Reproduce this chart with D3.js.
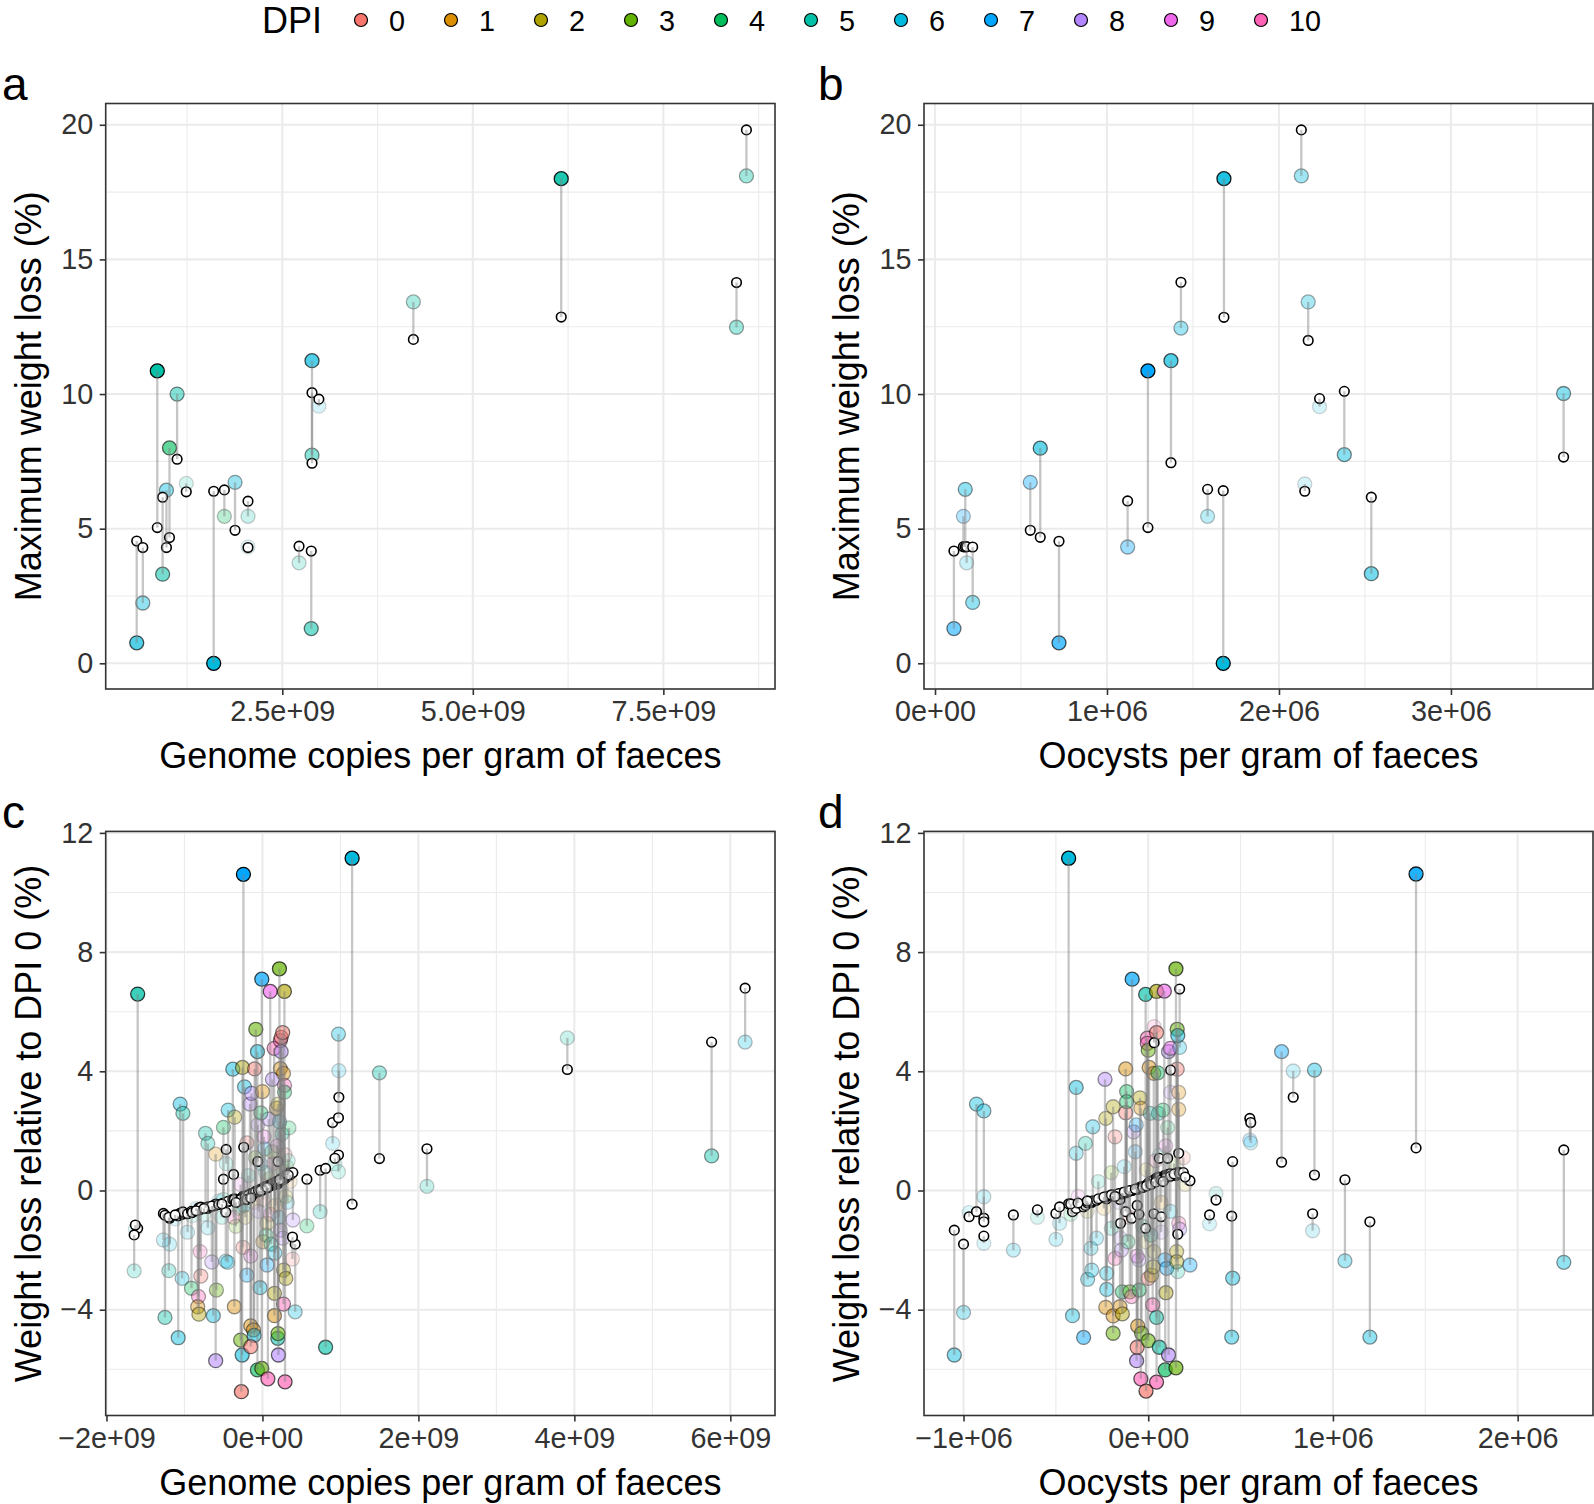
<!DOCTYPE html>
<html><head><meta charset="utf-8">
<script src="https://cdn.jsdelivr.net/npm/d3@7"></script>
<style>body{margin:0;background:#fff;} svg{display:block;}</style>
</head><body>
<svg id="chart" width="1594" height="1504"></svg>
<script>
// ---------- legend ----------
const dpiLevels = [0,1,2,3,4,5,6,7,8,9,10];
const dpiColors = ["#F8766D","#DB8E00","#AEA200","#64B200","#00BD5C","#00C1A7","#00BADE","#00A6FF","#B385FF","#EF67EB","#FF63B6"];

// ---------- panel a: genome copies vs max weight loss ----------
const aGenome = [0.59e9,0.67e9,0.86e9,0.93e9,0.98e9,1.02e9,1.12e9,1.24e9,1.60e9,1.74e9,1.88e9,2.05e9,2.05e9,2.72e9,2.88e9,2.89e9,2.89e9,2.98e9,4.22e9,6.16e9,8.46e9,8.59e9];
const aObs = [0.76,2.24,10.86,3.31,6.43,8.00,10.00,6.68,0.00,5.46,6.72,5.46,4.32,3.73,1.29,11.24,7.73,9.55,13.42,18.00,12.48,18.10];
const aFit = [4.54,4.30,5.04,6.17,4.30,4.67,7.58,6.37,6.39,6.44,4.94,6.02,4.30,4.35,4.17,7.43,10.05,9.81,12.03,12.86,14.14,19.81];
const aDpi = [6,6,5,5,6,4,5,5,6,4,6,5,6,5,5,6,5,6,5,5,5,5];

// ---------- panel b: oocysts vs max weight loss ----------
const bOocysts = [0.110e6,0.165e6,0.176e6,0.184e6,0.219e6,0.554e6,0.612e6,0.721e6,1.120e6,1.238e6,1.372e6,1.430e6,1.585e6,1.676e6,1.680e6,2.130e6,2.150e6,2.170e6,2.236e6,2.380e6,2.537e6,3.655e6];
const bObs = [1.29,5.46,6.46,3.73,2.26,6.72,7.99,0.76,4.32,10.86,11.24,12.45,5.46,0.00,18.00,18.10,6.66,13.42,9.53,7.75,3.33,10.02];
const bFit = [4.17,4.33,4.32,4.33,4.32,4.94,4.68,4.53,6.03,5.04,7.45,14.15,6.46,6.41,12.85,19.81,6.39,11.99,9.83,10.10,6.17,7.66];
const bDpi = [7,7,6,6,6,7,6,7,7,7,6,6,6,6,6,6,6,6,6,6,6,6];

// ---------- panel c: genome copies (relative) vs weight loss relative to DPI 0 ----------
const cGenome = [-1.600e9,-1.645e9,-1.630e9,-1.270e9,-1.190e9,-1.250e9,-1.080e9,-1.200e9,-1.030e9,-1.055e9,
 -1.020e9,-0.960e9,-0.910e9,-0.820e9,-0.830e9,-0.815e9,-0.800e9,-0.790e9,-0.630e9,-0.600e9,
 -0.590e9,-0.700e9,-0.730e9,-0.700e9,-0.600e9,-0.650e9,-0.500e9,-0.470e9,-0.445e9,-0.440e9,
 -0.465e9,-0.380e9,-0.356e9,-0.360e9,-0.370e9,-0.500e9,-0.256e9,-0.244e9,-0.240e9,-0.280e9,
 -0.260e9,-0.270e9,-0.250e9,-0.230e9,-0.200e9,-0.160e9,-0.150e9,-0.115e9,-0.106e9,-0.150e9,
 -0.140e9,-0.100e9,-0.085e9,-0.064e9,-0.064e9,-0.060e9,-0.030e9,-0.008e9,-0.008e9,0.005e9,
 0.000e9,0.020e9,0.040e9,0.060e9,0.070e9,0.080e9,0.100e9,0.103e9,0.120e9,0.128e9,
 0.150e9,0.154e9,0.154e9,0.160e9,0.180e9,0.197e9,0.200e9,0.200e9,0.205e9,0.218e9,
 0.230e9,0.230e9,0.230e9,0.240e9,0.240e9,0.250e9,0.260e9,0.270e9,0.270e9,0.270e9,
 0.282e9,0.283e9,0.283e9,0.290e9,0.300e9,0.310e9,0.320e9,0.340e9,0.355e9,0.390e9,
 0.420e9,0.385e9,0.570e9,0.740e9,0.810e9,0.900e9,0.975e9,0.980e9,0.975e9,0.930e9,
 1.150e9,1.500e9,2.110e9,3.910e9,5.760e9,6.190e9,
 -0.300e9,-0.280e9,-0.220e9,-0.180e9,-0.120e9,-0.090e9,-0.050e9,-0.020e9,0.010e9,0.030e9,
 0.050e9,0.090e9,0.110e9,0.140e9,0.170e9,0.190e9,0.210e9,0.250e9,0.260e9,0.290e9,
 0.300e9,0.330e9,-0.340e9,-0.200e9,-0.150e9,-0.020e9,0.060e9,0.220e9,-1.120e9,-0.900e9,
 -0.850e9,-0.750e9,-0.560e9,-0.520e9];
const cObs = [6.59,-2.70,-1.30,-1.66,-1.80,-4.26,-4.94,-2.69,-2.95,2.90,
 2.59,-1.40,-3.28,-3.56,-3.90,-4.15,-2.05,-2.87,-4.20,-5.71,
 -3.34,-1.25,1.92,1.58,1.22,-2.40,2.12,-2.37,-2.41,2.70,
 0.90,4.07,2.46,-3.90,-0.90,-0.30,4.13,10.61,-0.50,-5.02,
 -5.52,-6.75,-1.91,3.48,-2.84,2.90,-4.54,-4.68,-4.86,-5.24,
 3.26,4.08,5.41,4.66,-6.02,2.20,-3.26,7.09,-5.97,-1.72,
 3.32,1.80,0.60,-1.10,-6.32,2.40,6.68,-0.80,1.30,3.73,
 4.77,-4.20,-3.45,-2.10,2.76,-4.96,-4.80,2.90,-5.52,7.44,
 5.03,4.09,-1.33,4.66,5.14,1.90,5.30,3.93,-3.81,-2.67,
 6.68,3.53,3.30,-6.42,-2.95,0.80,-0.40,2.10,0.30,-0.99,
 -4.07,-2.30,-1.19,-0.71,-5.26,1.58,5.25,4.02,0.63,0.90,
 11.15,3.95,0.14,5.12,1.16,4.98,
 -0.60,0.20,-0.90,0.50,-0.40,1.10,-0.70,0.90,-0.30,1.40,
 -1.50,0.40,-1.80,0.90,-0.50,1.50,-0.90,0.70,-1.60,1.20,
 -0.20,1.00,-1.20,1.60,-2.20,2.60,-2.50,2.30,-0.95,-0.85,
 -0.60,-0.80,-0.35,-0.90];
const cFit = [-1.27,-1.49,-1.16,-0.77,-0.93,-0.83,-0.85,-0.90,-0.80,-0.76,
 -0.72,-0.78,-0.70,-0.62,-0.66,-0.58,-0.64,-0.56,-0.52,-0.50,
 -0.48,-0.60,-0.58,-0.55,-0.46,-0.52,-0.42,-0.73,-0.38,-0.36,
 1.38,-0.30,-0.28,-0.30,0.54,0.38,-0.25,-0.30,1.45,-0.30,
 -0.25,-0.28,-0.20,-0.20,-0.18,-0.15,-0.10,-0.12,-0.08,-0.13,
 -0.10,-0.06,-0.02,-0.04,-0.05,0.97,-0.02,0.02,0.00,0.05,
 0.03,0.10,0.12,0.08,0.10,0.15,0.18,0.16,0.20,0.22,
 0.24,0.20,0.25,0.28,0.30,0.22,0.30,0.97,0.28,0.35,
 0.32,0.34,0.33,0.38,0.40,0.36,0.42,0.44,0.40,0.38,
 0.45,0.46,0.48,0.40,0.45,0.52,0.55,0.58,0.52,0.60,
 -1.80,-1.56,0.38,0.68,0.74,2.28,2.44,3.13,1.19,1.08,
 -0.46,1.07,1.40,4.06,4.98,6.79,
 -0.35,-0.30,-0.22,-0.16,-0.10,-0.05,0.00,0.05,0.08,0.12,
 0.14,0.18,0.20,0.25,0.28,0.30,0.33,0.38,0.40,0.45,
 0.48,0.52,-0.40,-0.30,-0.25,0.00,0.10,0.35,-0.82,-0.74,
 -0.68,-0.60,-0.47,-0.45];
const cDpi = [5,5,6,6,6,5,6,5,6,6,
 5,6,4,10,1,2,10,0,6,8,
 3,6,5,5,1,8,4,6,6,6,
 5,6,2,1,10,5,2,7,6,3,
 6,0,0,6,7,8,1,1,6,0,
 8,0,3,6,4,8,6,7,3,1,
 1,9,5,2,10,8,9,10,3,8,
 10,1,2,6,1,5,3,2,8,3,
 10,1,8,8,0,5,0,1,10,2,
 2,10,4,10,2,3,6,4,1,8,
 6,0,4,5,5,6,6,6,5,5,
 6,5,5,5,5,6,
 4,9,2,5,1,3,8,6,0,7,
 4,2,5,10,1,9,6,3,8,0,
 2,5,3,0,9,4,7,6,6,5,
 6,5,6,5];

// ---------- panel d: oocysts (relative) vs weight loss relative to DPI 0 ----------
const dOocysts = [-1.050e6,-1.000e6,-0.970e6,-0.930e6,-0.890e6,-0.890e6,-0.890e6,-0.730e6,-0.500e6,-0.431e6,
 -0.410e6,-0.390e6,-0.390e6,-0.350e6,-0.340e6,-0.328e6,-0.306e6,-0.310e6,-0.300e6,-0.280e6,
 -0.234e6,-0.230e6,-0.230e6,-0.225e6,-0.225e6,-0.200e6,-0.190e6,-0.190e6,-0.190e6,-0.180e6,
 -0.153e6,-0.150e6,-0.145e6,-0.140e6,-0.140e6,-0.122e6,-0.122e6,-0.117e6,-0.117e6,-0.110e6,
 -0.100e6,-0.090e6,-0.087e6,-0.080e6,-0.065e6,-0.063e6,-0.060e6,-0.057e6,-0.050e6,-0.049e6,
 -0.045e6,-0.040e6,-0.040e6,-0.036e6,-0.014e6,-0.014e6,-0.012e6,-0.005e6,-0.005e6,0.000e6,
 0.000e6,0.000e6,0.005e6,0.010e6,0.018e6,0.024e6,0.027e6,0.030e6,0.030e6,0.032e6,
 0.045e6,0.045e6,0.045e6,0.045e6,0.052e6,0.055e6,0.060e6,0.060e6,0.070e6,0.087e6,
 0.090e6,0.092e6,0.096e6,0.100e6,0.105e6,0.110e6,0.110e6,0.120e6,0.121e6,0.150e6,
 0.170e6,0.150e6,0.154e6,0.154e6,0.157e6,0.157e6,0.160e6,0.160e6,0.165e6,0.165e6,
 0.165e6,0.226e6,0.332e6,0.367e6,0.457e6,0.452e6,0.550e6,0.555e6,0.722e6,0.785e6,
 0.890e6,0.900e6,1.065e6,1.200e6,1.450e6,2.250e6,
 -0.420e6,-0.380e6,-0.330e6,-0.270e6,-0.240e6,-0.200e6,-0.160e6,-0.130e6,-0.100e6,-0.070e6,
 -0.030e6,-0.010e6,0.015e6,0.040e6,0.070e6,0.095e6,0.120e6,0.140e6,0.170e6,0.190e6,
 0.200e6,-0.600e6,-0.480e6,-0.060e6,0.080e6,-0.180e6];
const dObs = [-5.52,-4.09,-0.74,2.90,2.67,-0.21,-1.77,-2.00,-1.64,11.15,
 -4.20,3.46,1.25,-4.93,1.58,-2.98,-2.67,-1.94,2.14,-1.60,
 3.73,2.42,-3.92,-2.78,-3.32,-1.27,2.81,-4.21,-4.79,-2.28,
 -3.90,-1.60,-2.00,-4.14,-3.40,4.08,2.61,3.32,2.98,-1.72,
 -3.40,-3.56,7.09,1.97,2.20,-5.71,-5.26,-4.55,-2.33,-3.34,
 3.11,2.76,-6.32,-4.79,6.58,-1.72,-6.73,5.11,4.94,4.71,
 -5.04,-2.95,4.13,2.59,-2.84,-3.84,-2.56,3.93,-2.05,5.50,
 6.68,5.30,-6.43,-4.26,3.95,2.59,-5.26,1.19,-1.40,6.69,
 -2.33,-6.02,-3.43,-2.61,2.11,4.66,-5.52,4.77,3.29,7.44,
 4.80,-5.95,-2.05,-2.39,5.41,4.07,5.20,-2.72,3.29,2.72,
 -1.10,-2.50,-1.12,-0.10,-2.94,-4.92,1.69,1.60,4.66,4.01,
 -1.35,4.04,-2.36,-4.92,10.62,-2.41,
 -0.80,-0.20,-0.70,0.30,-0.60,0.60,-0.40,0.80,-0.90,1.30,
 -1.20,0.70,-1.50,1.00,-0.40,1.50,-0.70,0.90,-1.30,1.10,
 0.20,-0.90,-1.10,-2.20,2.70,1.80];
const dFit = [-1.33,-1.80,-0.88,-0.71,-0.93,-1.05,-1.53,-0.82,-0.77,-0.45,
 -0.71,-0.49,-0.60,-0.55,-0.50,-0.42,-0.40,-0.38,-0.35,-0.33,
 -0.25,-0.22,-0.24,-0.28,-0.20,-0.18,-0.15,-0.20,-0.17,-0.20,
 -0.30,-1.10,-0.12,-0.10,-0.08,-0.08,-0.71,-0.06,-0.05,-0.04,
 -0.02,-0.93,0.00,0.02,0.04,0.05,0.03,0.06,-0.80,0.08,
 0.10,0.12,0.10,0.12,0.15,-1.27,0.16,0.18,0.20,0.22,
 0.20,0.24,0.25,0.30,0.28,0.30,0.32,0.35,-0.78,4.96,
 0.36,0.40,0.38,0.42,0.45,0.42,0.44,1.08,-0.88,0.50,
 0.48,0.45,0.52,0.50,1.08,0.55,0.52,0.56,4.04,0.50,
 6.76,0.55,0.58,0.56,0.60,0.58,0.55,-1.47,1.25,0.60,
 0.57,0.33,-0.82,-0.32,0.97,-0.86,2.42,2.28,0.95,3.13,
 -0.78,0.52,0.36,-1.05,1.43,1.36,
 -0.45,-0.42,-0.35,-0.28,-0.22,-0.15,-0.10,-0.05,0.00,0.05,
 0.10,0.15,0.20,0.28,0.35,0.42,0.48,0.55,0.58,0.60,
 0.45,-0.65,-0.55,-0.50,0.30,-0.20];
const dDpi = [6,6,6,6,6,6,6,6,6,6,
 6,6,6,7,5,6,6,6,6,6,
 8,2,1,6,6,5,2,1,3,10,
 1,8,8,2,4,1,0,4,4,4,
 3,10,7,8,7,8,0,1,8,4,
 2,1,10,3,5,2,0,10,10,3,
 3,0,1,5,2,10,2,1,2,10,
 2,0,10,5,4,5,5,5,8,9,
 7,4,2,7,4,8,8,9,8,3,
 6,3,2,2,3,0,6,5,1,1,
 10,7,6,5,6,6,7,6,7,6,
 6,6,6,6,7,6,
 4,9,2,5,1,3,8,6,0,7,
 4,2,5,10,1,9,6,3,8,0,
 2,5,6,9,4,0];

// ---------- drawing ----------
const FONT = '"Liberation Sans", Arial, Helvetica, sans-serif';
const svg = d3.select("#chart");
svg.append("rect").attr("width",1594).attr("height",1504).attr("fill","#fff");
const colorScale = d3.scaleOrdinal().domain(dpiLevels).range(dpiColors);

function drawPanel(p) {
  const x = d3.scaleLinear().domain(p.xDomain).range([p.left, p.right]);
  const y = d3.scaleLinear().domain(p.yDomain).range([p.bottom, p.top]);
  const g = svg.append("g");
  const grid = g.append("g");
  p.xMinor.forEach(v => grid.append("line").attr("x1", x(v)).attr("x2", x(v)).attr("y1", p.top).attr("y2", p.bottom).attr("stroke", "#EBEBEB").attr("stroke-width", 1.1));
  p.yMinor.forEach(v => grid.append("line").attr("y1", y(v)).attr("y2", y(v)).attr("x1", p.left).attr("x2", p.right).attr("stroke", "#EBEBEB").attr("stroke-width", 1.1));
  p.xTicks.forEach(v => grid.append("line").attr("x1", x(v)).attr("x2", x(v)).attr("y1", p.top).attr("y2", p.bottom).attr("stroke", "#EBEBEB").attr("stroke-width", 2.1));
  p.yTicks.forEach(v => grid.append("line").attr("y1", y(v)).attr("y2", y(v)).attr("x1", p.left).attr("x2", p.right).attr("stroke", "#EBEBEB").attr("stroke-width", 2.1));

  const idx = d3.range(p.xs.length);
  const res = idx.map(i => Math.abs(p.obs[i] - p.fit[i]));
  const maxRes = d3.max(res);
  const alpha = i => Math.min(1, 0.12 + 0.95 * res[i] / maxRes);

  g.append("g").selectAll("circle").data(idx).join("circle")
    .attr("cx", i => x(p.xs[i])).attr("cy", i => y(p.obs[i])).attr("r", 7)
    .attr("fill", i => colorScale(p.dpi[i])).attr("fill-opacity", alpha)
    .attr("stroke", "#000").attr("stroke-opacity", alpha).attr("stroke-width", 1.3);
  g.append("g").selectAll("circle").data(idx).join("circle")
    .attr("cx", i => x(p.xs[i])).attr("cy", i => y(p.fit[i])).attr("r", 4.8)
    .attr("fill", "#fff").attr("stroke", "#000").attr("stroke-width", 1.6);
  g.append("g").selectAll("line").data(idx).join("line")
    .attr("x1", i => x(p.xs[i])).attr("x2", i => x(p.xs[i]))
    .attr("y1", i => y(p.obs[i])).attr("y2", i => y(p.fit[i]))
    .attr("stroke", "#7f7f7f").attr("stroke-opacity", 0.45).attr("stroke-width", 2.3);

  g.append("rect").attr("x", p.left).attr("y", p.top).attr("width", p.right - p.left).attr("height", p.bottom - p.top)
    .attr("fill", "none").attr("stroke", "#333").attr("stroke-width", 1.6);

  const xa = g.append("g").attr("transform", `translate(0,${p.bottom})`)
    .call(d3.axisBottom(x).tickValues(p.xTicks).tickFormat((d, i) => p.xLabels[i]).tickSize(6).tickPadding(6));
  const ya = g.append("g").attr("transform", `translate(${p.left},0)`)
    .call(d3.axisLeft(y).tickValues(p.yTicks).tickFormat((d, i) => p.yLabels[i]).tickSize(6).tickPadding(6.5));
  [xa, ya].forEach(a => {
    a.select(".domain").remove();
    a.selectAll("line").attr("stroke", "#333").attr("stroke-width", 1.6);
    a.selectAll("text").attr("font-size", 28.8).attr("fill", "#333").attr("font-family", FONT);
  });

  svg.append("text").attr("x", (p.left + p.right) / 2).attr("y", p.bottom + 79)
    .attr("text-anchor", "middle").attr("font-size", 36).attr("font-family", FONT).attr("fill", "#000").text(p.xTitle);
  svg.append("text").attr("transform", `translate(${p.left - 64.7},${(p.top + p.bottom) / 2}) rotate(-90)`)
    .attr("text-anchor", "middle").attr("font-size", 36).attr("font-family", FONT).attr("fill", "#000").text(p.yTitle);
  svg.append("text").attr("x", p.tagX).attr("y", p.top - 3.5).attr("font-size", 46).attr("font-family", FONT).attr("fill", "#000").text(p.tag);
}

const yTop = {top: 103.5, bottom: 689, yDomain: [-0.954, 20.79], yTicks: [0,5,10,15,20], yLabels: ["0","5","10","15","20"], yMinor: [2.5,7.5,12.5,17.5], yTitle: "Maximum weight loss (%)"};
const yBot = {top: 831.4, bottom: 1415.5, yDomain: [-7.55, 12.05], yTicks: [-4,0,4,8,12], yLabels: ["\u22124","0","4","8","12"], yMinor: [-6,-2,2,6,10], yTitle: "Weight loss relative to DPI 0 (%)"};

drawPanel(Object.assign({}, yTop, {
  tag: "a", tagX: 2, left: 105.7, right: 775,
  xDomain: [0.183e9, 8.965e9], xTicks: [2.5e9, 5.0e9, 7.5e9], xLabels: ["2.5e+09","5.0e+09","7.5e+09"], xMinor: [1.25e9, 3.75e9, 6.25e9, 8.75e9],
  xTitle: "Genome copies per gram of faeces", xs: aGenome, obs: aObs, fit: aFit, dpi: aDpi}));
drawPanel(Object.assign({}, yTop, {
  tag: "b", tagX: 818, left: 924, right: 1593,
  xDomain: [-0.064e6, 3.826e6], xTicks: [0, 1e6, 2e6, 3e6], xLabels: ["0e+00","1e+06","2e+06","3e+06"], xMinor: [0.5e6, 1.5e6, 2.5e6, 3.5e6],
  xTitle: "Oocysts per gram of faeces", xs: bOocysts, obs: bObs, fit: bFit, dpi: bDpi}));
drawPanel(Object.assign({}, yBot, {
  tag: "c", tagX: 2, left: 105.7, right: 775,
  xDomain: [-2.01e9, 6.573e9], xTicks: [-2e9, 0, 2e9, 4e9, 6e9], xLabels: ["\u22122e+09","0e+00","2e+09","4e+09","6e+09"], xMinor: [-1e9, 1e9, 3e9, 5e9],
  xTitle: "Genome copies per gram of faeces", xs: cGenome, obs: cObs, fit: cFit, dpi: cDpi}));
drawPanel(Object.assign({}, yBot, {
  tag: "d", tagX: 818, left: 924, right: 1593,
  xDomain: [-1.214e6, 2.408e6], xTicks: [-1e6, 0, 1e6, 2e6], xLabels: ["\u22121e+06","0e+00","1e+06","2e+06"], xMinor: [-0.5e6, 0.5e6, 1.5e6],
  xTitle: "Oocysts per gram of faeces", xs: dOocysts, obs: dObs, fit: dFit, dpi: dDpi}));

// legend
const lg = svg.append("g");
lg.append("text").attr("x", 262).attr("y", 33).attr("font-size", 36).attr("font-family", FONT).attr("fill", "#000").text("DPI");
const legendX = d3.scalePoint().domain(dpiLevels).range([361, 1261]);
dpiLevels.forEach(d => {
  lg.append("circle").attr("cx", legendX(d)).attr("cy", 20).attr("r", 6.5)
    .attr("fill", colorScale(d)).attr("stroke", "#000").attr("stroke-width", 1.2);
  lg.append("text").attr("x", legendX(d) + 28).attr("y", 30.5).attr("font-size", 28.8).attr("font-family", FONT).attr("fill", "#000").text(String(d));
});
</script>
</body></html>
